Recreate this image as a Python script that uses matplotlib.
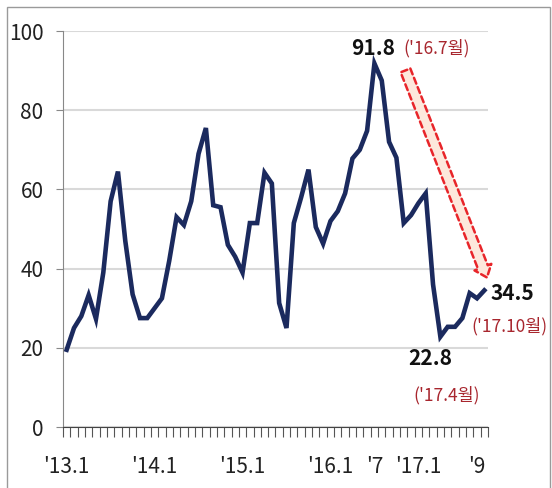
import matplotlib
matplotlib.use("Agg")
import matplotlib.pyplot as plt
import matplotlib.patches as mpatches
import numpy as np

# monthly index, '13.1 .. '17.10
values = [19.5, 25, 28, 33.3, 27.3, 39, 57, 64.5, 47, 33.5, 27.5, 27.5,
          30, 32.5, 42, 53, 51, 57, 69, 75.5, 56, 55.5, 46, 43,
          39, 51.5, 51.5, 64.2, 61.5, 31.3, 25, 51.5, 58, 65, 50.5, 46.3,
          52, 54.5, 59, 67.8, 70, 74.8, 91.8, 87.5, 72, 68, 51.5, 53.5,
          56.5, 59, 36, 22.8, 25.3, 25.3, 27.5, 33.8, 32.5, 34.5]
tick_pos = [0, 12, 24, 36, 42, 48, 56]
tick_labels = ["'13.1", "'14.1", "'15.1", "'16.1", "'7", "'17.1", "'9"]
y_ticks = [0, 20, 40, 60, 80, 100]

# callouts: (index, value label, date label)
peak_i, low_i, last_i = 42, 51, 57

plt.rcParams['font.family'] = ['Noto Sans CJK KR', 'DejaVu Sans']

navy = '#1b2a5e'
dred = '#a8262e'

fig = plt.figure(figsize=(5.52, 4.88), dpi=100)
ax = fig.add_axes([63 / 552, 1 - 427 / 488, 425 / 552, 396 / 488])

x = np.arange(len(values))
ax.plot(x, values, color=navy, lw=3.3, solid_joinstyle='miter', zorder=3)

ax.set_xlim(-0.5, len(values) - 0.5)
ax.set_ylim(0, 100)
ax.set_yticks(y_ticks)
ax.set_yticklabels([str(v) for v in y_ticks])
ax.yaxis.grid(True, color='#d9d9d9', lw=1.5)
ax.set_axisbelow(True)

ax.set_xticks(tick_pos)
ax.set_xticklabels(tick_labels)
ax.set_xticks(np.arange(-0.5, len(values), 1.0), minor=True)
ax.tick_params(axis='x', which='major', length=0, pad=21, labelsize=15, colors='#222222')
ax.tick_params(axis='x', which='minor', length=7, width=0.8, color='#555555')
ax.tick_params(axis='y', length=5, width=0.8, color='#888888', pad=9, labelsize=15,
               labelcolor='#222222')

for s in ['top', 'right']:
    ax.spines[s].set_visible(False)
ax.spines['left'].set_color('#888888')
ax.spines['bottom'].set_color('#444444')

# red dashed block arrow
arr = mpatches.FancyArrowPatch(
    posA=(46.1, 90.7), posB=(57.5, 37.1),
    arrowstyle='simple,head_width=1.3,head_length=0.8,tail_width=0.75',
    mutation_scale=10, facecolor='#fde8dc', edgecolor='#e8252a',
    linestyle=(0, (2.5, 1.5)), lw=1.8, clip_on=False, zorder=4)
ax.add_patch(arr)

def callout(i, num, date, num_off, date_off):
    ax.annotate(num, (i, values[i]), xytext=num_off, textcoords='offset points',
                ha='center', va='center', fontsize=15, fontweight='bold',
                color='#111111', annotation_clip=False)
    ax.annotate(date, (i, values[i]), xytext=date_off, textcoords='offset points',
                ha='center', va='center', fontsize=12.5, color=dred,
                annotation_clip=False)

callout(peak_i, '91.8', "('16.7월)", (-1, 11), (45, 11))
callout(last_i, '34.5', "('17.10월)", (20, -2), (18, -26))
callout(low_i, '22.8', "('17.4월)", (-7.6, -16), (4.6, -42))

# outer frame
fig.patches.append(mpatches.Rectangle((7 / 552, -0.05), 543 / 552, 1 - 7 / 488 + 0.05,
                                      transform=fig.transFigure, fill=False,
                                      edgecolor='#9a9a9a', lw=1.0))

fig.savefig('out.png', dpi=100)
